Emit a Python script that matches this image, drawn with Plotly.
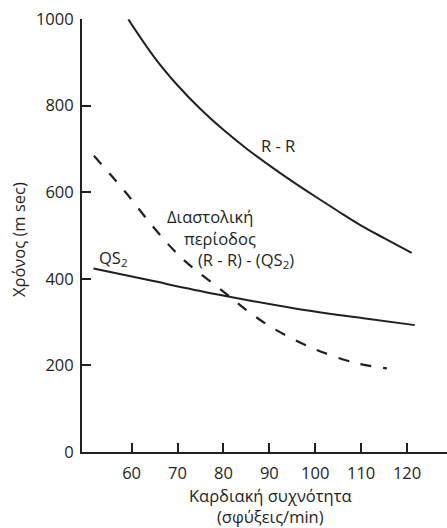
import plotly.graph_objects as go

# Data
rr_hr = [59.3, 65, 70, 75, 80, 85, 90, 95, 100, 105, 110, 115, 121]
rr_ms = [999, 911, 847, 792, 744, 701, 662, 625, 590, 556, 523, 494, 460]

qs2_hr = [51.7, 63.7, 78.2, 95.9, 110.5, 121.7]
qs2_ms = [424, 397, 365, 331, 309, 293]

dia_hr = [51.8, 58.6, 65.1, 71.0, 80.4, 85.5, 90.8, 99.6, 109.0, 115.6]
dia_ms = [684, 601, 515, 447, 367, 324, 286, 239, 205, 193]

x_ticks = [60, 70, 80, 90, 100, 110, 120]
y_ticks = [0, 200, 400, 600, 800, 1000]

FONT = "Open Sans"
TXT = "#231f20"
FS = 16.5

fig = go.Figure()
fig.add_trace(go.Scatter(x=rr_hr, y=rr_ms, mode="lines", line=dict(color=TXT, width=2, shape="spline")))
fig.add_trace(go.Scatter(x=qs2_hr, y=qs2_ms, mode="lines", line=dict(color=TXT, width=2, shape="spline")))
fig.add_trace(go.Scatter(x=dia_hr, y=dia_ms, mode="lines",
                         line=dict(color=TXT, width=2.2, shape="spline", dash="11px,12px")))

ann = [
    dict(x=91.9, y=707, text="R - R", xanchor="center", yanchor="middle"),
    dict(x=67.2, y=545, text="Διαστολική", xanchor="left", yanchor="middle"),
    dict(x=70.9, y=494, text="περίοδος", xanchor="left", yanchor="middle"),
    dict(x=74.1, y=444, text="(R - R) - (QS<sub>2</sub>)", xanchor="left", yanchor="middle"),
    dict(x=52.4, y=449, text="QS<sub>2</sub>", xanchor="left", yanchor="middle"),
]
for a in ann:
    fig.add_annotation(**a, xref="x", yref="y", showarrow=False,
                       font=dict(family=FONT, size=FS, color=TXT))

# Plot area in window pixels: x 82..447, y 19..452
fig.add_annotation(text="Καρδιακή συχνότητα<br>(σφύξεις/min)", xref="paper", yref="paper",
                   x=(270 - 82) / 365, y=-(506 - 452) / 433, xanchor="center", yanchor="middle",
                   showarrow=False, font=dict(family=FONT, size=16.5, color=TXT))
fig.add_annotation(text="Χρόνος (m sec)", xref="paper", yref="paper",
                   x=-(82 - 18) / 365, y=(452 - 240) / 433, xanchor="center", yanchor="middle",
                   textangle=-90, showarrow=False, font=dict(family=FONT, size=16.5, color=TXT))

axis_common = dict(showgrid=False, zeroline=False, showline=True, linecolor=TXT, linewidth=2,
                   ticks="inside", ticklen=9, tickwidth=2, tickcolor=TXT,
                   automargin=False,
                   tickfont=dict(family=FONT, size=FS, color=TXT))
fig.update_xaxes(range=[49.2, 128.7], tickvals=x_ticks, ticklabelstandoff=5, **axis_common)
fig.update_yaxes(range=[0, 1000], tickvals=y_ticks, ticklabelstandoff=3, **axis_common)

fig.update_layout(width=447, height=528, margin=dict(l=82, r=0, t=19, b=76),
                  plot_bgcolor="white", paper_bgcolor="white", showlegend=False)
fig.write_html("out.html", config={"displayModeBar": False},
               post_script="document.body.style.margin='0px';document.body.style.overflow='hidden';")
